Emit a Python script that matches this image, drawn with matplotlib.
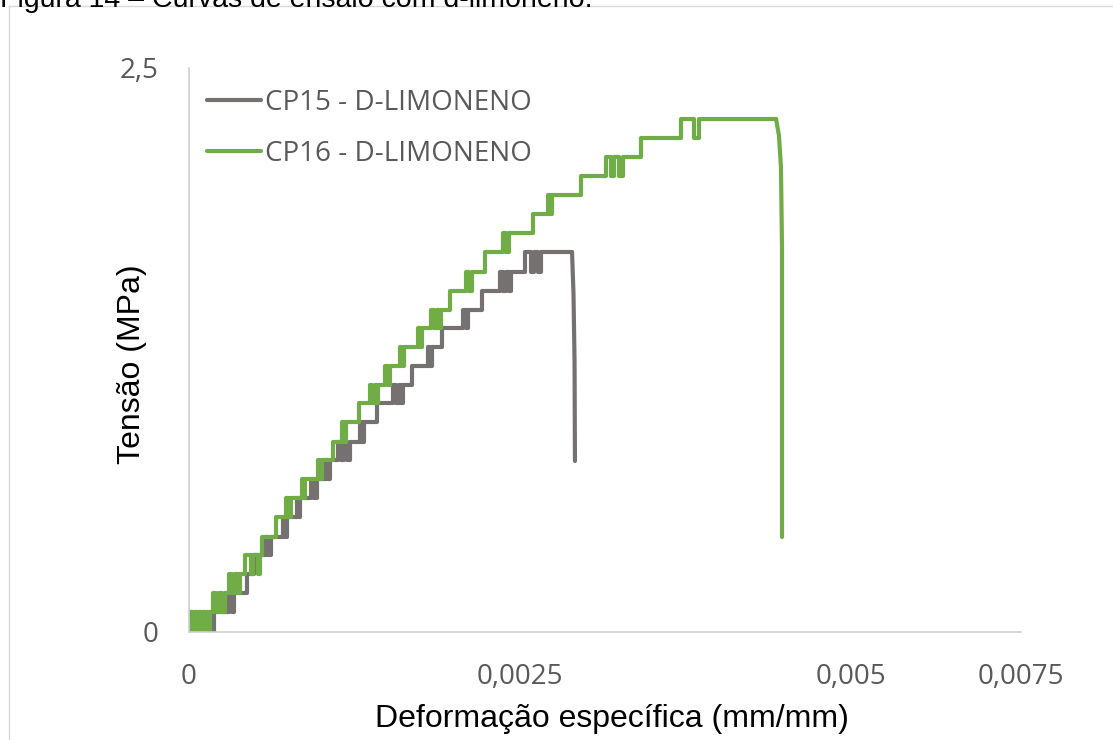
import matplotlib
matplotlib.use('Agg')
import matplotlib.pyplot as plt
from matplotlib.lines import Line2D
from matplotlib.ticker import FixedLocator, FixedFormatter
import numpy as np

plt.rcParams['font.family'] = ['Open Sans', 'DejaVu Sans']

# niveis de tensao (MPa) - a leitura da celula de carga anda em degraus
niveis = [0, 0.089, 0.173, 0.257, 0.341, 0.421, 0.510, 0.594, 0.678, 0.762,
          0.842, 0.931, 1.015, 1.095, 1.179, 1.263, 1.348, 1.427, 1.512,
          1.596, 1.684, 1.769, 1.853, 1.937, 2.021, 2.105, 2.190, 2.274]

# CP15: deformacao (x10^-3 mm/mm) onde muda o degrau, e o indice do novo nivel
cp15_def = [0.000, 0.015, 0.030, 0.045, 0.060, 0.076, 0.091, 0.106, 0.121, 0.136,
            0.151, 0.166, 0.181, 0.189, 0.302, 0.325, 0.340, 0.438, 0.491, 0.582,
            0.597, 0.619, 0.710, 0.725, 0.740, 0.816, 0.831, 0.838, 0.921, 0.944,
            0.967, 1.035, 1.050, 1.065, 1.125, 1.148, 1.171, 1.193, 1.216, 1.292,
            1.307, 1.322, 1.420, 1.541, 1.563, 1.586, 1.601, 1.616, 1.684, 1.805,
            1.820, 1.835, 1.911, 2.069, 2.092, 2.107, 2.213, 2.349, 2.372, 2.394,
            2.417, 2.432, 2.538, 2.583, 2.606, 2.636, 2.659, 2.893]
cp15_niv = [0, 1, 0, 1, 0, 1, 0, 1, 0, 1,
            0, 1, 0, 1, 2, 1, 2, 3, 4, 5,
            4, 5, 6, 5, 6, 7, 6, 7, 8, 7,
            8, 9, 8, 9, 10, 9, 10, 9, 10, 11,
            10, 11, 12, 13, 12, 13, 12, 13, 14, 15,
            14, 15, 16, 17, 16, 17, 18, 19, 18, 19,
            18, 19, 20, 19, 20, 19, 20, 20]
# ruptura
cp15_rup_def = [2.893, 2.904, 2.912, 2.915]
cp15_rup_ten = [1.684, 1.50, 1.20, 0.758]

# CP16
cp16_def = [0.000, 0.008, 0.023, 0.038, 0.053, 0.068, 0.083, 0.098, 0.113, 0.128,
            0.144, 0.159, 0.181, 0.204, 0.227, 0.249, 0.272, 0.302, 0.325, 0.347,
            0.370, 0.385, 0.423, 0.468, 0.483, 0.521, 0.536, 0.551, 0.657, 0.733,
            0.755, 0.770, 0.853, 0.869, 0.876, 0.974, 0.989, 1.005, 1.088, 1.156,
            1.171, 1.186, 1.284, 1.367, 1.382, 1.405, 1.420, 1.427, 1.480, 1.503,
            1.518, 1.594, 1.609, 1.624, 1.730, 1.745, 1.760, 1.828, 1.850, 1.873,
            1.888, 1.903, 1.971, 2.092, 2.115, 2.137, 2.236, 2.372, 2.394, 2.417,
            2.598, 2.711, 2.727, 2.742, 2.961, 3.150, 3.187, 3.210, 3.248, 3.278,
            3.414, 3.716, 3.814, 3.852, 4.434]
cp16_niv = [0, 1, 0, 1, 0, 1, 0, 1, 0, 1,
            0, 1, 2, 1, 2, 1, 2, 3, 2, 3,
            2, 3, 4, 3, 4, 3, 4, 5, 6, 7,
            6, 7, 8, 7, 8, 9, 8, 9, 10, 11,
            10, 11, 12, 13, 12, 13, 12, 13, 14, 13,
            14, 15, 14, 15, 16, 15, 16, 17, 16, 17,
            16, 17, 18, 19, 18, 19, 20, 21, 20, 21,
            22, 23, 22, 23, 24, 25, 24, 25, 24, 25,
            26, 27, 26, 27, 27]
cp16_rup_def = [4.434, 4.456, 4.471, 4.479, 4.479]
cp16_rup_ten = [2.274, 2.20, 2.06, 1.70, 0.421]

xticks = [0, 0.0025, 0.005, 0.006284]
xlabels = ['0', '0,0025', '0,005', '0,0075']
yticks = [0, 2.5]
ylabels = ['0', '2,5']

cinza = '#767171'
verde = '#70AD47'

fig = plt.figure(figsize=(11.13, 7.4), dpi=100)
ax = fig.add_axes([189/1113, 1-632/740, 832/1113, 564/740])

estilo = dict(lw=3.0, solid_joinstyle='round', solid_capstyle='round')
ax.step(np.array(cp15_def)*1e-3, [niveis[i] for i in cp15_niv], where='post',
        color=cinza, label='CP15 - D-LIMONENO', **estilo)
ax.plot(np.array(cp15_rup_def)*1e-3, cp15_rup_ten, color=cinza, **estilo)
ax.step(np.array(cp16_def)*1e-3, [niveis[i] for i in cp16_niv], where='post',
        color=verde, label='CP16 - D-LIMONENO', **estilo)
ax.plot(np.array(cp16_rup_def)*1e-3, cp16_rup_ten, color=verde, **estilo)

ax.set_xlim(0, 0.006284)
ax.set_ylim(0, 2.5)
ax.xaxis.set_major_locator(FixedLocator(xticks))
ax.xaxis.set_major_formatter(FixedFormatter(xlabels))
ax.yaxis.set_major_locator(FixedLocator(yticks))
ax.yaxis.set_major_formatter(FixedFormatter(ylabels))
ax.tick_params(length=0, labelsize=20, labelcolor='#595959')
ax.tick_params(axis='x', pad=22)
ax.tick_params(axis='y', pad=22)

for s in ['top', 'right']:
    ax.spines[s].set_visible(False)
for s in ['left', 'bottom']:
    ax.spines[s].set_color('#D0D0D0')
    ax.spines[s].set_linewidth(1.2)

ax.set_xlabel('Deformação específica (mm/mm)', family='Liberation Sans', fontsize=23)
ax.set_ylabel('Tensão (MPa)', family='Liberation Sans', fontsize=23)
ax.xaxis.set_label_coords(0.5085, -0.127)
ax.yaxis.set_label_coords(-0.051, 0.475)

leg = ax.legend(loc='upper left', bbox_to_anchor=(0.0216, 0.963), frameon=False,
                fontsize=20, handlelength=1.95, handletextpad=0.15,
                labelspacing=0.82, borderpad=0, borderaxespad=0)
for t in leg.get_texts():
    t.set_color('#595959')

# moldura do grafico e legenda da figura cortada no topo
fig.add_artist(Line2D([8.5/1113, 8.5/1113], [0, 1-6/740], color='#D9D9D9', lw=1))
fig.add_artist(Line2D([8.5/1113, 1], [1-6/740, 1-6/740], color='#D9D9D9', lw=1))
fig.text(0.0, 1-7/740, 'Figura 14 – Curvas de ensaio com d-limoneno.',
         family='Liberation Sans', fontsize=20.5, va='baseline')

fig.savefig('out.png', dpi=100)
